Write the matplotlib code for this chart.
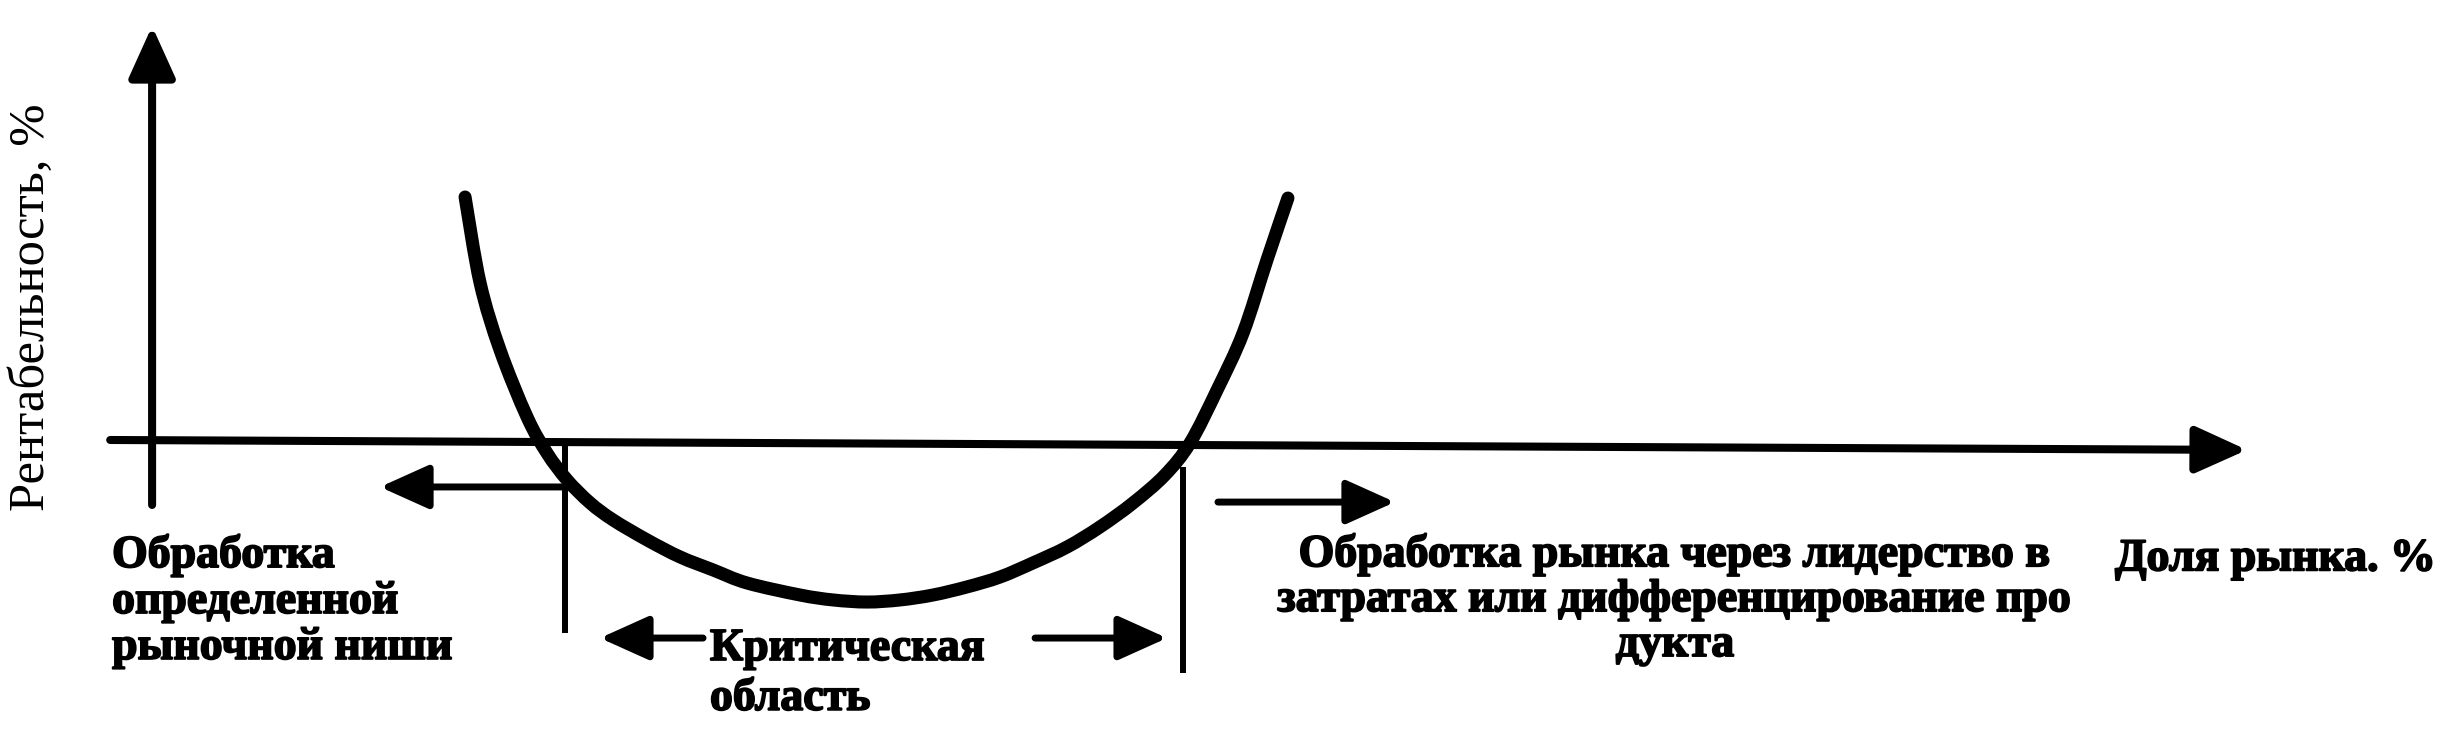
import matplotlib
matplotlib.use("Agg")
import matplotlib.pyplot as plt
import numpy as np
from matplotlib.path import Path
from matplotlib.patches import PathPatch
import matplotlib.patheffects as pe

# ---------------- data (market share %, profitability) ----------------
share = [14.94, 15.66, 16.61, 17.90, 18.85, 19.81, 20.91, 22.00, 23.63, 25.20,
         26.78, 28.40, 30.93, 32.51, 34.13, 35.70, 37.28, 38.90, 40.48, 42.05,
         43.68, 45.25, 46.83, 48.35, 49.55, 50.84, 52.08, 53.22, 54.22]
profit = [11.74, 7.58, 4.35, 1.11, -0.63, -1.93, -3.04, -3.86, -4.83, -5.65,
          -6.28, -6.91, -7.49, -7.73, -7.83, -7.73, -7.49, -7.10, -6.62, -5.94,
          -5.17, -4.20, -3.04, -1.69, -0.14, 2.42, 5.17, 8.70, 11.69]

# axes (tail -> tip)
y_axis = [(0.0, -3.14), (0.0, 20.0)]
x_axis = [(-2.0, 0.0), (100.0, -0.48)]

# boundaries of critical area
bound_x = [19.71, 49.2]
bound_y0 = [0.0, -1.3]
bound_y1 = [-9.32, -11.26]

# direction arrows (tail, tip)
arrows = [((19.71, -2.27), (10.88, -2.27)),
          ((50.88, -3.0), (59.33, -3.0)),
          ((26.3, -9.57), (21.38, -9.57)),
          ((42.15, -9.57), (48.45, -9.57))]

y_label = "Рентабельность, %"
x_label = "Доля рынка. %"
left_lines = ["Обработка", "определенной", "рыночной ниши"]
right_lines = ["Обработка рынка через лидерство в",
               "затратах или дифференцирование про",
               "дукта"]
crit_lines = ["Критическая", "область"]

# ---------------- figure ----------------
fig = plt.figure(figsize=(24.64, 7.32), dpi=100)
ax = fig.add_axes([0, 0, 1, 1])
ax.set_xlim(-7.26, 110.36)
ax.set_ylim(-14.11, 21.26)
ax.axis("off")

def arrow(tail, tip, lw, hl=2.0, hw=0.9):
    ax.annotate("", xy=tip, xytext=tail,
                arrowprops=dict(arrowstyle=f"-|>,head_length={hl},head_width={hw}",
                                mutation_scale=15, lw=lw, color="black",
                                shrinkA=0, shrinkB=0))

arrow(y_axis[0], y_axis[1], 5.8, 2.1, 0.95)
arrow(x_axis[0], x_axis[1], 5.8, 2.1, 0.95)

for x, a, b in zip(bound_x, bound_y0, bound_y1):
    ax.plot([x, x], [a, b], color="black", lw=4.3, solid_capstyle="butt")

for tail, tip in arrows:
    arrow(tail, tip, 5.0)

# smooth curve through the read points (Catmull-Rom -> cubic Bezier)
P = np.column_stack([share, profit])
n = len(P)
verts = [P[0]]
codes = [Path.MOVETO]
for i in range(n - 1):
    p0 = P[i - 1] if i > 0 else P[i]
    p1, p2 = P[i], P[i + 1]
    p3 = P[i + 2] if i + 2 < n else P[i + 1]
    verts += [p1 + (p2 - p0) / 6.0, p2 - (p3 - p1) / 6.0, p2]
    codes += [Path.CURVE4] * 3
ax.add_patch(PathPatch(Path(verts, codes), fill=False, lw=9.4,
                       edgecolor="black", capstyle="round", joinstyle="round"))

effects = [pe.withStroke(linewidth=1.3, foreground="black")]
tf = dict(family="Liberation Serif", weight="bold", size=33, color="black",
          path_effects=effects)

for i, s in enumerate(left_lines):
    ax.text(-1.91, -6.14 - 2.22 * i, s, ha="left", va="baseline", **tf)
for i, s in enumerate(right_lines):
    ax.text(72.7, -6.1 - 2.17 * i, s, ha="center", va="baseline", **tf)
for i, s in enumerate(crit_lines):
    ax.text(26.63, -10.63 - 2.41 * i, s, ha="left", va="baseline", **tf)

ax.text(93.7, -6.3, x_label, ha="left", va="baseline", **tf)
ax.text(-5.73, 6.4, y_label, rotation=90, ha="center", va="center",
        family="Liberation Serif", size=36.5, color="black")

fig.savefig("out.png", dpi=100, facecolor="white")
